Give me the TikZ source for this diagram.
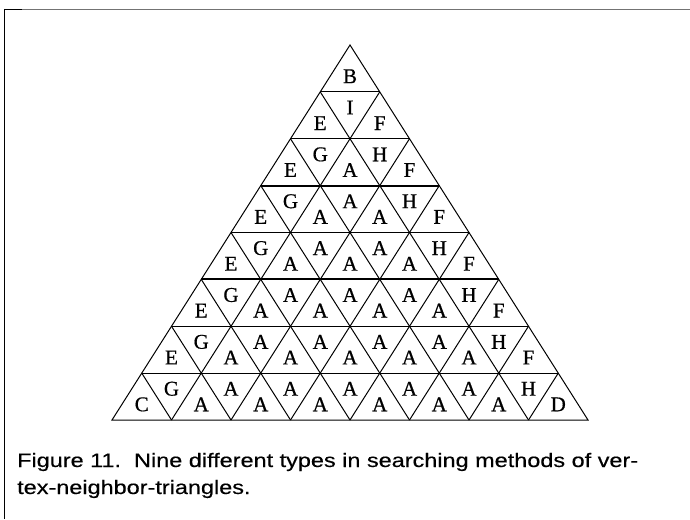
\documentclass[tikz,border=0pt]{standalone}
\usepackage{fontspec}
\usepackage{graphicx}
\setmainfont{Liberation Serif}[FakeBold=0.6]
\newfontfamily\capfont{Liberation Sans}[FakeBold=0.35]
\newsavebox\capbox
\newlength\capw
\def\triw{59.5}
\def\trih{46.875}
\newcommand\rowlabs[2]{%
  \foreach \lab [count=\t from 0] in {#2} {%
    \pgfmathsetmacro\xx{350-#1*\triw/2+(\t+1)*\triw/2}%
    \pgfmathsetmacro\yy{45+(#1-1)*\trih+(mod(\t,2)==0 ? 2*\trih/3 : \trih/3)}%
    \node[lab] (r#1-\t) at (\xx,\yy) {\lab};%
  }%
}
\begin{document}
\sbox\capbox{\capfont\fontsize{19.5}{22}\selectfont Figure 11.\ \ Nine different types in searching methods of ver-}%
\setlength\capw{\wd\capbox}%
\pgfmathsetmacro\capsx{621/\capw}%
\begin{tikzpicture}[x=1pt,y=-1pt,
  tri/.style={line width=1pt, line join=miter},
  thickrow/.style={line width=1.8pt},
  lab/.style={font=\fontsize{21}{21}\selectfont, inner sep=0pt},
  captext/.style={anchor=base west, inner sep=0pt}]
\useasboundingbox (0,0) rectangle (690,519);
\fill[white] (0,0) rectangle (690,519);
% frame
\draw[line width=0.8pt, black!55] (4,9.5) -- (690,9.5);
\draw[line width=1.2pt] (4.6,9) -- (4.6,519);
\draw[line width=1.4pt] (4,9.3) -- (22,9.3);
% grid points
\coordinate (apex) at (350,45);
\coordinate (bl) at (112,420);
\coordinate (br) at (588,420);
\foreach \i in {1,...,7} {
  \coordinate (L\i) at ({112+\i*\triw/2},{420-\i*\trih});
  \coordinate (R\i) at ({588-\i*\triw/2},{420-\i*\trih});
  \coordinate (B\i) at ({112+\i*\triw},420);
}
\draw[tri] (apex) -- (bl) -- (br) -- cycle;
\foreach \i in {1,...,7} {
  \pgfmathtruncatemacro\m{8-\i}
  \draw[tri] (L\i) -- (R\i);
  \draw[tri] (B\i) -- (L\i);
  \draw[tri] (B\i) -- (R\m);
}
\draw[thickrow] (L5) -- (R5);
\draw[thickrow] (L3) -- (R3);
% labels
\rowlabs{1}{B}
\rowlabs{2}{E,I,F}
\rowlabs{3}{E,G,A,H,F}
\rowlabs{4}{E,G,A,A,A,H,F}
\rowlabs{5}{E,G,A,A,A,A,A,H,F}
\rowlabs{6}{E,G,A,A,A,A,A,A,A,H,F}
\rowlabs{7}{E,G,A,A,A,A,A,A,A,A,A,H,F}
\rowlabs{8}{C,G,A,A,A,A,A,A,A,A,A,A,A,H,D}
% caption
\node[captext] (cap1) at (17,467) {\scalebox{\capsx}[1]{\usebox\capbox}};
\node[captext] (cap2) at (17,494) {\scalebox{\capsx}[1]{\capfont\fontsize{19.5}{22}\selectfont tex-neighbor-triangles.}};
\end{tikzpicture}
\end{document}
